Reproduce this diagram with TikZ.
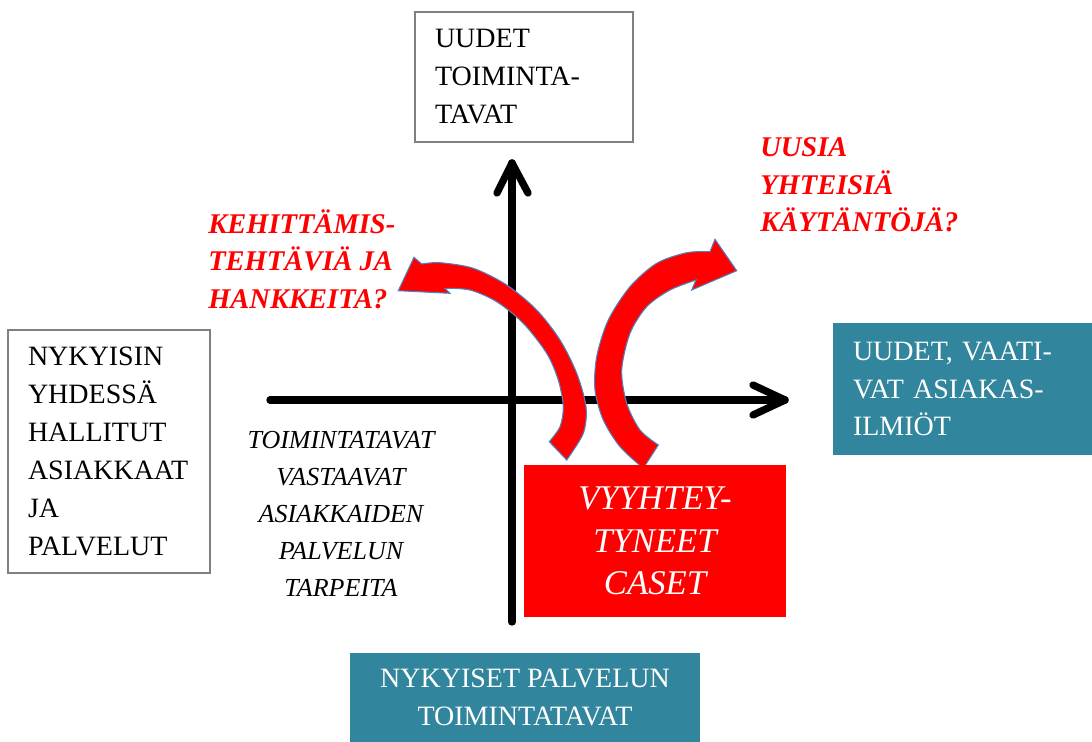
\documentclass[tikz,border=0pt]{standalone}
\usepackage{fontspec}
\setmainfont{Liberation Serif}
\definecolor{tealbox}{HTML}{31859C}
\definecolor{boxgray}{HTML}{808080}
\definecolor{arrowedge}{HTML}{4F81BD}
\definecolor{redbox}{HTML}{FF0000}
\tikzset{
  whitebox/.style={draw=boxgray, line width=1.2pt, fill=white, inner xsep=15pt, inner ysep=0pt, align=left,
    font=\fontsize{21}{28.5}\selectfont},
  tealrect/.style={fill=tealbox, text=white, inner xsep=15pt, inner ysep=0pt,
    font=\fontsize{21}{28}\selectfont},
  axisline/.style={line width=5.5pt, line cap=round, line join=round, black},
  bigarrow/.style={fill=redbox, draw=arrowedge, line width=0.8pt, line join=miter},
  redq/.style={text=redbox, font=\fontsize{21.4}{28}\selectfont\bfseries\itshape, align=left, inner sep=0pt},
  blackit/.style={font=\fontsize{19.5}{27.8}\selectfont\itshape, align=center, inner sep=0pt}
}
\begin{document}
\begin{tikzpicture}[x=0.75pt,y=-0.75pt]
\useasboundingbox (0,0) rectangle (1092,742);

% axes
\coordinate (vbot) at (512,622);
\coordinate (vtop) at (512,163);
\coordinate (vb1) at (497,193);
\coordinate (vb2) at (528,193);
\coordinate (hleft) at (270,400);
\coordinate (hright) at (785,400);
\coordinate (hb1) at (753,385);
\coordinate (hb2) at (753,415);
\draw[axisline] (vbot) -- (vtop);
\draw[axisline] (vb1) -- (vtop) -- (vb2);
\draw[axisline] (hleft) -- (hright);
\draw[axisline] (hb1) -- (hright) -- (hb2);

% left curved arrow
\draw[bigarrow] (549.3,441.7) -- (566.7,460)
  -- plot[smooth] coordinates {(566.7,460) (583.3,433.3) (586,406.7) (576.7,373.3) (560,340) (536.7,310) (506.7,285) (473.3,268.3) (440,262.7) (421.7,264)}
  -- (414,257.3) -- (398.3,290.7) -- (450,293.3) -- (445,288.3)
  -- plot[smooth] coordinates {(445,288.3) (470,290) (496.7,301.7) (523.3,323.3) (546.7,353.3) (558.3,380) (563.3,406.7) (560,426.7) (549.3,441.7)}
  -- cycle;

% right curved arrow
\draw[bigarrow] (658.3,445) -- (643.3,468.3)
  -- plot[smooth] coordinates {(643.3,468.3) (620,446.7) (603.3,420) (595,390) (596.7,356.7) (608.3,320) (630,286.7) (656.7,263.3) (686.7,252.7) (710,251.7)}
  -- (715,239.3) -- (736.7,270.7) -- (691.7,290) -- (696,280)
  -- plot[smooth] coordinates {(696,280) (670,290) (646.7,306.7) (630,333.3) (621.7,370) (626.7,403.3) (640,430) (658.3,445)}
  -- cycle;

% boxes
\node[whitebox, text width=133.5pt, minimum height=97.5pt] (top) at (524,77)
  {UUDET\\TOIMINTA-\\TAVAT};
\node[whitebox, text width=121.5pt, minimum height=182.25pt] (left) at (109,451.5)
  {NYKYISIN\\YHDESSÄ\\HALLITUT\\ASIAKKAAT\\JA\\PALVELUT};
\node[tealrect, text width=164.25pt, minimum height=99pt, align=left] (right) at (962.5,389)
  {UUDET, VAATI-\\VAT ASIAKAS-\\ILMIÖT};
\node[tealrect, minimum width=262.5pt, minimum height=66.75pt, align=center] (bottom) at (525,697.5)
  {NYKYISET PALVELUN\\TOIMINTATAVAT};
\node[fill=redbox, text=white, minimum width=196.5pt, minimum height=114pt, align=center,
  font=\fontsize{26}{32}\selectfont\itshape, inner sep=0pt] (caset) at (655,541)
  {VYYHTEY-\\TYNEET\\CASET};

% free texts
\node[blackit] (mid) at (341,514)
  {TOIMINTATAVAT\\VASTAAVAT\\ASIAKKAIDEN\\PALVELUN\\TARPEITA};
\node[redq, anchor=west] (kehit) at (208,259)
  {KEHITTÄMIS-\\TEHTÄVIÄ JA\\HANKKEITA?};
\node[redq, anchor=west] (uusia) at (760,185)
  {UUSIA\\YHTEISIÄ\\KÄYTÄNTÖJÄ?};
\end{tikzpicture}
\end{document}
